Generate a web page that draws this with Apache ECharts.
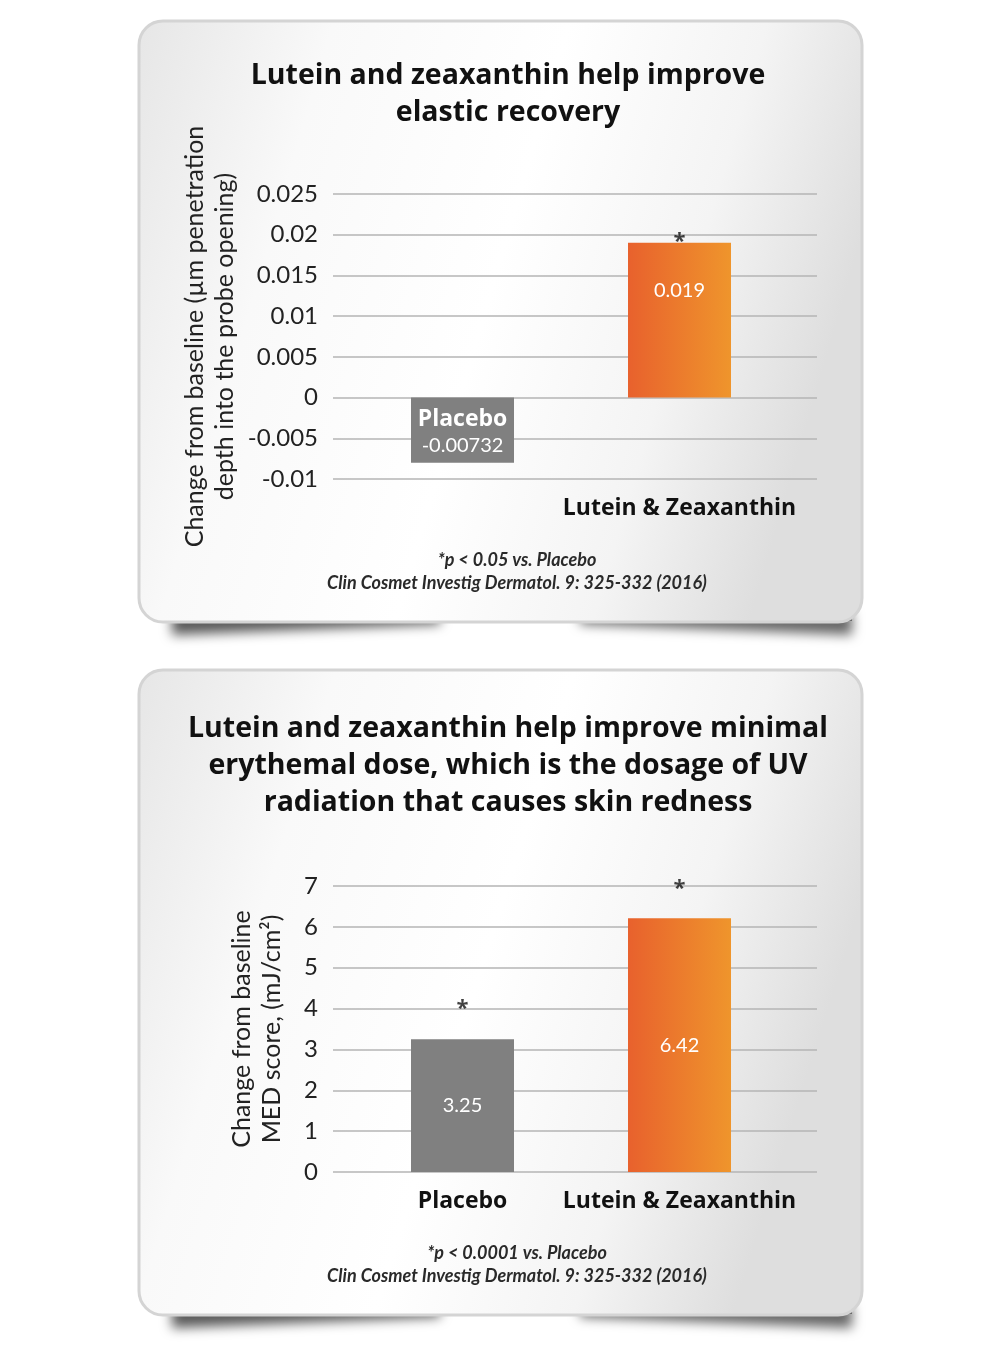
<!DOCTYPE html>
<html>
<head>
<meta charset="utf-8">
<script src="https://cdn.jsdelivr.net/npm/echarts@6/dist/echarts.min.js"></script>
<style>
html, body { margin: 0; padding: 0; background: #fff; }
#container { width: 1000px; height: 1363px; }
</style>
</head>
<body>
<div id="container"></div>
<script>
// shared categories, placed at x = 1 and 2 on a value axis
const categories = ['Placebo', 'Lutein & Zeaxanthin'];
const catPos = [1, 2];

// chart 1 - elastic recovery (bar heights as drawn, labels as printed)
const elasticValues = [-0.008, 0.019];
const elasticLabels = ['-0.00732', '0.019'];
const elasticStars = [false, true];
const elasticTicks = [-0.01, -0.005, 0, 0.005, 0.01, 0.015, 0.02, 0.025];

// chart 2 - minimal erythemal dose
const medValues = [3.25, 6.21];
const medLabels = ['3.25', '6.42'];
const medStars = [true, true];
const medTicks = [0, 1, 2, 3, 4, 5, 6, 7];

const FONT = 'Lato';
const BOLD = 'Open Sans';
const orange = {
    type: 'linear', x: 0, y: 0, x2: 1, y2: 0,
    colorStops: [{ offset: 0, color: '#e8612d' }, { offset: 1, color: '#ef952c' }]
};
const grey = '#808080';

function yAxisFor(gridIndex, ticks, step, name, nameGap) {
    return {
        type: 'value',
        gridIndex: gridIndex,
        min: ticks[0],
        max: ticks[ticks.length - 1],
        interval: step,
        axisLine: { show: false },
        axisTick: { show: false },
        splitLine: { lineStyle: { color: '#b4b4b4', width: 1.5 } },
        axisLabel: {
            margin: 15,
            fontFamily: FONT,
            fontSize: 24,
            color: '#222',
            formatter: v => String(Number(v.toFixed(4)))
        },
        name: name,
        nameLocation: 'middle',
        nameGap: nameGap,
        nameTextStyle: { fontFamily: FONT, fontSize: 25, color: '#222', lineHeight: 30 }
    };
}

function xAxisFor(gridIndex, shown) {
    return {
        type: 'value',
        gridIndex: gridIndex,
        min: 0.4032,
        max: 2.6336,
        axisLine: { show: false },
        axisTick: { show: false },
        splitLine: { show: false },
        axisLabel: {
            customValues: shown,
            margin: 18,
            fontFamily: BOLD,
            fontWeight: 'bold',
            fontSize: 23,
            color: '#111',
            formatter: v => categories[catPos.indexOf(Math.round(v))] || ''
        }
    };
}

const elasticData = elasticValues.map((v, i) => {
    const item = {
        value: [catPos[i], v],
        itemStyle: { color: i === 0 ? grey : orange }
    };
    if (i === 0) {
        item.label = {
            show: true,
            position: 'inside',
            offset: [0, 2],
            formatter: '{a|' + categories[i] + '}\n{b|' + elasticLabels[i] + '}',
            rich: {
                a: { fontFamily: BOLD, fontWeight: 'bold', fontSize: 23, color: '#fff', lineHeight: 27 },
                b: { fontFamily: FONT, fontSize: 20, color: '#fff', lineHeight: 25 }
            }
        };
    } else {
        item.label = {
            show: true,
            position: 'insideTop',
            distance: 38,
            formatter: elasticLabels[i],
            fontFamily: FONT, fontSize: 20, color: '#fff'
        };
    }
    return item;
});

const medData = medValues.map((v, i) => ({
    value: [catPos[i], v],
    itemStyle: { color: i === 0 ? grey : orange },
    label: {
        show: true,
        position: 'inside',
        formatter: medLabels[i],
        fontFamily: FONT, fontSize: 20, color: '#fff'
    }
}));

function starSeries(xi, yi, values, stars, dist) {
    return {
        type: 'scatter',
        xAxisIndex: xi,
        yAxisIndex: yi,
        symbolSize: 0,
        z: 5,
        label: {
            show: true,
            position: 'top',
            distance: dist,
            formatter: '*',
            fontFamily: BOLD,
            fontWeight: 'bold',
            fontSize: 22,
            color: '#111'
        },
        data: values.map((v, i) => [catPos[i], v]).filter((d, i) => stars[i] && values[i] > 0)
    };
}

function card(y, h) {
    const b = y + h;
    return [
        // curled-paper shadow lobes peeking out under the card (only their shadow shows)
        {
            type: 'polygon', z: -30, silent: true,
            shape: { points: [[172, b - 24], [440, b - 24], [440, b - 12], [172, b - 1]] },
            style: { fill: '#666', shadowColor: 'rgba(0,0,0,0.65)', shadowBlur: 12, shadowOffsetY: 14 }
        },
        {
            type: 'polygon', z: -30, silent: true,
            shape: { points: [[580, b - 24], [852, b - 24], [852, b - 1], [580, b - 12]] },
            style: { fill: '#666', shadowColor: 'rgba(0,0,0,0.6)', shadowBlur: 12, shadowOffsetY: 14 }
        },
        {
            type: 'rect', z: -20, silent: true,
            shape: { x: 139, y: y, width: 723, height: h, r: 24 },
            style: {
                fill: {
                    type: 'linear', x: 0, y: 0, x2: 1, y2: 0.35,
                    colorStops: [
                        { offset: 0, color: '#e6e6e6' },
                        { offset: 0.25, color: '#f9f9f9' },
                        { offset: 0.55, color: '#ffffff' },
                        { offset: 0.8, color: '#f4f4f4' },
                        { offset: 1, color: '#dedede' }
                    ]
                },
                stroke: '#d4d4d4',
                lineWidth: 3
            }
        }
    ];
}

const chart = echarts.init(document.getElementById('container'), null, { renderer: 'canvas' });

const titleStyle = { fontFamily: BOLD, fontWeight: 'bold', fontSize: 28.5, color: '#111', lineHeight: 37 };
const noteStyle = { fontFamily: FONT, fontStyle: 'italic', fontSize: 18, color: '#2a2a2a', lineHeight: 23 };

const option = {
    animation: false,
    backgroundColor: '#ffffff',
    title: [
        {
            text: 'Lutein and zeaxanthin help improve\nelastic recovery',
            left: 503, top: 52, textAlign: 'center',
            textStyle: titleStyle
        },
        {
            text: '*p < 0.05 vs. Placebo\nClin Cosmet Investig Dermatol. 9: 325-332 (2016)',
            left: 512, top: 544, textAlign: 'center',
            textStyle: noteStyle
        },
        {
            text: 'Lutein and zeaxanthin help improve minimal\nerythemal dose, which is the dosage of UV\nradiation that causes skin redness',
            left: 503, top: 705, textAlign: 'center',
            textStyle: titleStyle
        },
        {
            text: '*p < 0.0001 vs. Placebo\nClin Cosmet Investig Dermatol. 9: 325-332 (2016)',
            left: 512, top: 1237, textAlign: 'center',
            textStyle: noteStyle
        }
    ],
    graphic: [].concat(card(21, 601), card(670, 645)),
    grid: [
        { left: 333, right: 183, top: 194, height: 285 },
        { left: 333, right: 183, top: 886, height: 286 }
    ],
    xAxis: [xAxisFor(0, [2]), xAxisFor(1, [1, 2])],
    yAxis: [
        yAxisFor(0, elasticTicks, 0.005, 'Change from baseline (µm penetration\ndepth into the probe opening)', 93),
        yAxisFor(1, medTicks, 1, 'Change from baseline\nMED score, (mJ/cm²)', 46)
    ],
    series: [
        {
            type: 'bar', xAxisIndex: 0, yAxisIndex: 0, barWidth: 103,
            data: elasticData
        },
        starSeries(0, 0, elasticValues, elasticStars, -10),
        {
            type: 'bar', xAxisIndex: 1, yAxisIndex: 1, barWidth: 103,
            data: medData
        },
        starSeries(1, 1, medValues, medStars, 19)
    ]
};

chart.setOption(option);
window.addEventListener('resize', () => chart.resize());
</script>
</body>
</html>
